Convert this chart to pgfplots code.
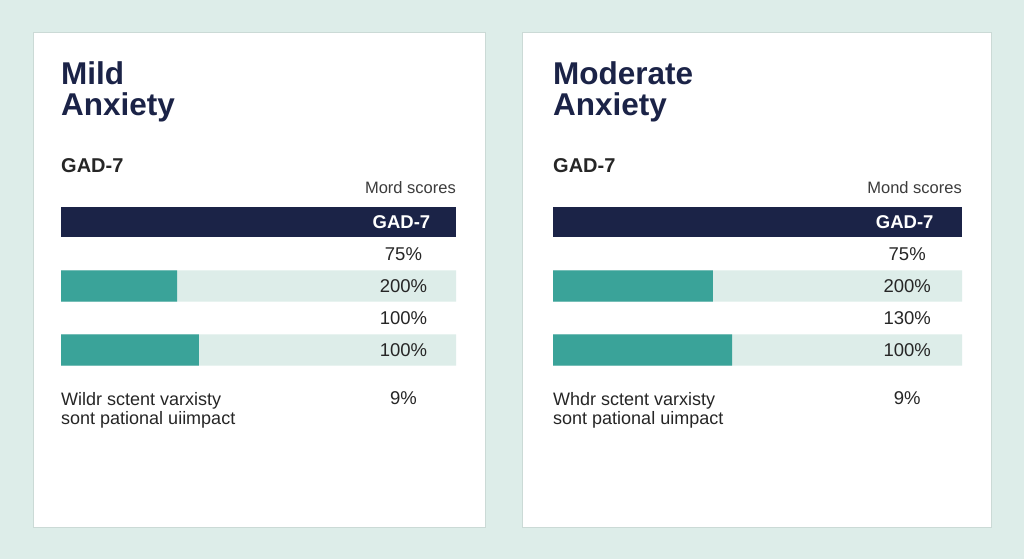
\documentclass[border=0pt]{standalone}
\usepackage{fontspec}
\setmainfont{Liberation Sans}
\usepackage{pgfplots}
\pgfplotsset{compat=1.18}
\definecolor{bgmint}{HTML}{DDEDE9}
\definecolor{navy}{HTML}{1B2347}
\definecolor{barteal}{HTML}{3AA399}
\definecolor{track}{HTML}{DDEDE9}
\definecolor{txt}{HTML}{262626}
\definecolor{subtxt}{HTML}{3C3C3C}
\newcommand{\ftitle}{\fontsize{31.5bp}{33bp}\selectfont\bfseries}
\newcommand{\fsub}{\fontsize{20bp}{22bp}\selectfont\bfseries}
\newcommand{\fcol}{\fontsize{16.5bp}{18bp}\selectfont}
\newcommand{\fval}{\fontsize{18.5bp}{20bp}\selectfont}
\newcommand{\fnote}{\fontsize{18bp}{19bp}\selectfont}
\pgfplotsset{
  panel/.style={hide axis, scale only axis, height=160bp,
    xmin=0, xmax=100, ymin=-0.5, ymax=4.5, y dir=reverse, clip=false,
    anchor=north west},
  hbar/.style={xbar, bar shift=0pt, draw=none}
}
\begin{document}
\begin{tikzpicture}
\fill[bgmint] (0,0) rectangle (1024bp,-559bp);
\path[use as bounding box] (0,0) rectangle (1024bp,-559bp);
\fill[white, draw=bgmint!92!black, line width=0.3bp] (33bp,-32bp) rectangle (485bp,-527bp);
\fill[white, draw=bgmint!92!black, line width=0.3bp] (522bp,-32bp) rectangle (991bp,-527bp);

% ---- left panel texts
\node[anchor=base west, inner sep=0, text=navy, font=\ftitle] at (61bp,-84bp) {Mild};
\node[anchor=base west, inner sep=0, text=navy, font=\ftitle] at (61bp,-115bp) {Anxiety};
\node[anchor=base west, inner sep=0, text=txt, font=\fsub] at (61bp,-172bp) {GAD-7};
\node[anchor=base east, inner sep=0, text=subtxt, font=\fcol] at (456bp,-193bp) {Mord scores};
\node[anchor=base west, inner sep=0, text=txt, font=\fnote] at (61bp,-405bp) {Wildr sctent varxisty};
\node[anchor=base west, inner sep=0, text=txt, font=\fnote] at (61bp,-424bp) {sont pational uiimpact};

% ---- right panel texts
\node[anchor=base west, inner sep=0, text=navy, font=\ftitle] at (553bp,-84bp) {Moderate};
\node[anchor=base west, inner sep=0, text=navy, font=\ftitle] at (553bp,-115bp) {Anxiety};
\node[anchor=base west, inner sep=0, text=txt, font=\fsub] at (553bp,-172bp) {GAD-7};
\node[anchor=base east, inner sep=0, text=subtxt, font=\fcol] at (962bp,-193bp) {Mond scores};
\node[anchor=base west, inner sep=0, text=txt, font=\fnote] at (553bp,-405bp) {Whdr sctent varxisty};
\node[anchor=base west, inner sep=0, text=txt, font=\fnote] at (553bp,-424bp) {sont pational uimpact};

% ---- left panel bars
\begin{axis}[panel, width=395bp, at={(61bp,-206bp)}]
\addplot[hbar, fill=navy, bar width=0.9375] coordinates {(100,0)};
\addplot[hbar, fill=track, bar width=0.97] coordinates {(100,2) (100,4)};
\addplot[hbar, fill=barteal, bar width=0.97] coordinates {(29.4,2) (34.9,4)};
\node[text=white, font=\fval\bfseries, inner sep=0] at (axis cs:86.2,0) {GAD-7};
\node[text=txt, font=\fval, inner sep=0] at (axis cs:86.7,1) {75\%};
\node[text=txt, font=\fval, inner sep=0] at (axis cs:86.7,2) {200\%};
\node[text=txt, font=\fval, inner sep=0] at (axis cs:86.7,3) {100\%};
\node[text=txt, font=\fval, inner sep=0] at (axis cs:86.7,4) {100\%};
\node[text=txt, font=\fval, inner sep=0] at (axis cs:86.7,5.5) {9\%};
\end{axis}

% ---- right panel bars
\begin{axis}[panel, width=409bp, at={(553bp,-206bp)}]
\addplot[hbar, fill=navy, bar width=0.9375] coordinates {(100,0)};
\addplot[hbar, fill=track, bar width=0.97] coordinates {(100,2) (100,4)};
\addplot[hbar, fill=barteal, bar width=0.97] coordinates {(39.1,2) (43.8,4)};
\node[text=white, font=\fval\bfseries, inner sep=0] at (axis cs:86.0,0) {GAD-7};
\node[text=txt, font=\fval, inner sep=0] at (axis cs:86.6,1) {75\%};
\node[text=txt, font=\fval, inner sep=0] at (axis cs:86.6,2) {200\%};
\node[text=txt, font=\fval, inner sep=0] at (axis cs:86.6,3) {130\%};
\node[text=txt, font=\fval, inner sep=0] at (axis cs:86.6,4) {100\%};
\node[text=txt, font=\fval, inner sep=0] at (axis cs:86.6,5.5) {9\%};
\end{axis}
\end{tikzpicture}
\end{document}
